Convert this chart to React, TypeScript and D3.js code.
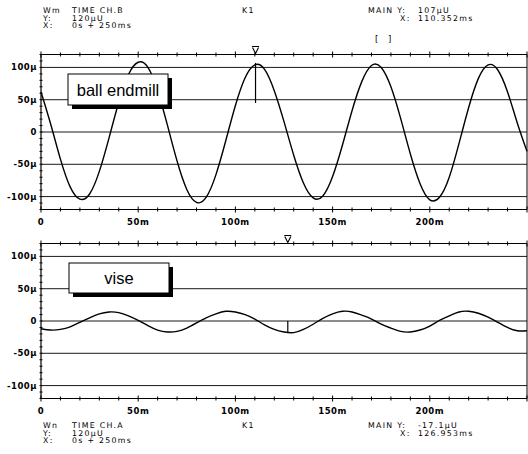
import React from 'react';
import * as d3 from 'd3';

// sample times (ms) and amplitudes (u)
const timeMs = [0, 5, 10, 15, 20, 25, 30, 35, 40, 45, 50, 55, 60, 65, 70, 75, 80, 85, 90, 95,
  100, 105, 110, 115, 120, 125, 130, 135, 140, 145, 150, 155, 160, 165, 170, 175, 180, 185, 190, 195,
  200, 205, 210, 215, 220, 225, 230, 235, 240, 245, 250];

const ballEndmill = [62, 12, -42, -85, -104, -96, -61, -9, 46, 89, 108, 100, 64, 11, -45, -89, -109, -101, -66, -14,
  41, 84, 104, 97, 64, 16, -36, -79, -102, -99, -69, -21, 33, 78, 103, 100, 70, 21, -34, -80,
  -105, -101, -70, -18, 38, 83, 104, 96, 62, 14, -30];

const vise = [-12, -14, -13, -9, -2, 5, 11, 14, 13, 8, 1, -7, -14, -17, -16, -11, -3, 5, 11, 15,
  14, 10, 3, -6, -13, -17, -18, -13, -5, 4, 11, 15, 14, 9, 3, -5, -11, -16, -17, -14,
  -8, 1, 8, 14, 15, 12, 6, -2, -10, -15, -15];

const yTicks = [100, 50, 0, -50, -100];
const yTickLabels = ['100\u03bc', '50\u03bc', '0', '-50\u03bc', '-100\u03bc'];
const xTicks = [0, 50, 100, 150, 200];
const xTickLabels = ['0', '50m', '100m', '150m', '200m'];

const panelNames = ['ball endmill', 'vise'];
const channels = ['Wm', 'Wn'];
const channelTitles = ['TIME CH.B', 'TIME CH.A'];
const cursorTimes = [110.352, 126.953];
const cursorValues = [107, -17.1];
const cursorEnds = [45, 0];
const cursorYText = ['107\u03bcU', '-17.1\u03bcU'];
const cursorXText = ['110.352ms', '126.953ms'];

const FONT = '"DejaVu Sans", sans-serif';

const x = d3.scaleLinear().domain([0, 250]).range([41, 527]);
const yTop = d3.scaleLinear().domain([-120, 120]).range([209.5, 54.5]);
const yBot = d3.scaleLinear().domain([-120, 120]).range([398.5, 243.5]);

function Panel({ y, values, idx, box }: { y: d3.ScaleLinear<number, number>; values: number[]; idx: number; box: number[] }) {
  const [x0, x1] = x.range();
  const top = y(120), bot = y(-120);
  const line = d3.line<number>()
    .x((_, i) => x(timeMs[i]))
    .y(d => y(d))
    .curve(d3.curveNatural);
  const minorX = d3.range(0, 251, 10);
  const minorY = d3.range(-120, 121, 10);
  const cx = x(cursorTimes[idx]);
  return (
    <g>
      {/* grid */}
      {yTicks.map(t => (
        <line key={t} x1={x0} x2={x1} y1={y(t)} y2={y(t)} stroke="#1a1a1a" strokeWidth={1} />
      ))}
      {/* frame */}
      <line x1={x0} x2={x1} y1={top} y2={top} stroke="#000" strokeWidth={1.2} />
      <line x1={x0} x2={x1} y1={bot} y2={bot} stroke="#000" strokeWidth={1.2} />
      <line x1={x0} x2={x0} y1={top} y2={bot} stroke="#000" strokeWidth={1.2} />
      <line x1={x1} x2={x1} y1={top} y2={bot} stroke="#000" strokeWidth={1} />
      {minorX.map(t => {
        const len = t % 50 === 0 ? 3 : 2;
        return (
          <g key={t}>
            <line x1={x(t)} x2={x(t)} y1={top - len} y2={top + len} stroke="#000" />
            <line x1={x(t)} x2={x(t)} y1={bot - len} y2={bot + len} stroke="#000" />
          </g>
        );
      })}
      {minorY.map(v => (
        <line key={v} x1={x0 - 1.5} x2={x0 + 1.5} y1={y(v)} y2={y(v)} stroke="#000" />
      ))}
      {/* labels */}
      {yTicks.map((t, i) => (
        <text key={t} x={37} y={y(t) + 3} textAnchor="end" fontFamily={FONT} fontSize={8.5}
          fontWeight="bold" letterSpacing={0.5}>{yTickLabels[i]}</text>
      ))}
      {xTicks.map((t, i) => (
        <text key={t} x={x(t)} y={bot + 15.5} textAnchor="middle" fontFamily={FONT} fontSize={8.5}
          fontWeight="bold" letterSpacing={0.5}>{xTickLabels[i]}</text>
      ))}
      {/* trace */}
      <path d={line(values) ?? ''} fill="none" stroke="#000" strokeWidth={1.4} />
      {/* cursor */}
      <line x1={cx} x2={cx} y1={y(cursorValues[idx])} y2={y(cursorEnds[idx])} stroke="#000" strokeWidth={1.2} />
      <path d={`M${cx - 3.5},${top - 8} H${cx + 3.5} M${cx - 3},${top - 7} L${cx},${top - 1} L${cx + 3},${top - 7}`}
        fill="none" stroke="#000" strokeWidth={1.1} />
      {/* label box */}
      <rect x={box[0] + 4} y={box[1] + 4} width={box[2]} height={box[3]} fill="#000" />
      <rect x={box[0]} y={box[1]} width={box[2]} height={box[3]} fill="#fff" stroke="#000" strokeWidth={1} />
      <text x={box[0] + box[2] / 2} y={box[1] + box[3] / 2 + 6} textAnchor="middle"
        fontFamily='"Liberation Sans", Arial, sans-serif' fontSize={16.5}>{panelNames[idx]}</text>
    </g>
  );
}

function Header({ idx, ys }: { idx: number; ys: number[] }) {
  const t = { fontFamily: FONT, fontSize: 7.8, letterSpacing: 1.3 } as const;
  return (
    <g>
      <text x={43} y={ys[0]} {...t}>{channels[idx]}</text>
      <text x={72} y={ys[0]} {...t}>{channelTitles[idx]}</text>
      <text x={43} y={ys[1]} {...t}>Y:</text>
      <text x={72} y={ys[1]} {...t}>120{'\u03bc'}U</text>
      <text x={43} y={ys[2]} {...t}>X:</text>
      <text x={72} y={ys[2]} {...t}>0s + 250ms</text>
      <text x={242} y={ys[0]} {...t}>K1</text>
      <text x={368} y={ys[0]} {...t}>MAIN Y:</text>
      <text x={418} y={ys[0]} {...t}>{cursorYText[idx]}</text>
      <text x={400} y={ys[1]} {...t}>X:</text>
      <text x={418} y={ys[1]} {...t}>{cursorXText[idx]}</text>
    </g>
  );
}

export default function App() {
  return (
    <svg width={528} height={454} style={{ position: 'absolute', left: 0, top: 0, background: '#fff' }}>
      <rect width={528} height={454} fill="#fff" />
      <Header idx={0} ys={[13, 20.5, 28]} />
      <text x={375} y={42} fontFamily={FONT} fontSize={8.5} letterSpacing={1}>[</text>
      <text x={388} y={42} fontFamily={FONT} fontSize={8.5} letterSpacing={1}>]</text>
      <Panel y={yTop} values={ballEndmill} idx={0} box={[68, 74, 100, 31]} />
      <Panel y={yBot} values={vise} idx={1} box={[69, 263, 100, 30]} />
      <Header idx={1} ys={[428, 435.5, 443]} />
    </svg>
  );
}
